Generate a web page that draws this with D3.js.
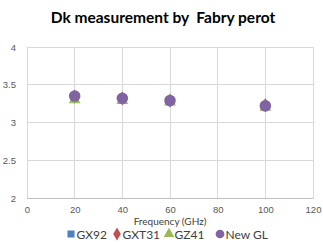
<!DOCTYPE html>
<html>
<head>
<meta charset="utf-8">
<script src="https://cdn.jsdelivr.net/npm/d3@7"></script>
<style>
  body { margin: 0; background: #fff; }
  svg { display: block; font-family: Lato, "Open Sans", sans-serif; }
</style>
</head>
<body>
<svg id="chart" width="323" height="243"></svg>
<script>
const frequencies = [20, 40, 60, 100];
const seriesNames = ["GX92", "GXT31", "GZ41", "New GL"];
const gx92 = [3.33, 3.31, 3.29, 3.22];
const gxt31 = [3.34, 3.32, 3.29, 3.23];
const gz41 = [3.30, 3.29, 3.27, 3.20];
const newGL = [3.35, 3.32, 3.29, 3.22];
const xTicks = [0, 20, 40, 60, 80, 100, 120];
const yTicks = [2, 2.5, 3, 3.5, 4];

const colors = ["#4F81BD", "#C0504D", "#9BBB59", "#8064A2"];
const shapes = [d3.symbolSquare, d3.symbolDiamond, d3.symbolTriangle, d3.symbolCircle];
const markerSizes = [70, 60, 60, 105];
const allSeries = [gx92, gxt31, gz41, newGL];

const svg = d3.select("#chart");

const x = d3.scaleLinear().domain([0, 120]).range([27, 313]);
const y = d3.scaleLinear().domain([2, 4]).range([198, 47]);

// title
svg.append("text")
    .attr("x", 163)
    .attr("y", 23)
    .attr("text-anchor", "middle")
    .attr("font-size", 15.5)
    .attr("font-weight", "bold")
    .attr("fill", "#000")
    .style("white-space", "pre")
    .text("Dk measurement by  Fabry perot");

// grid
svg.append("g")
    .selectAll("line")
    .data(yTicks)
    .join("line")
        .attr("x1", x(0)).attr("x2", x(120))
        .attr("y1", d => y(d)).attr("y2", d => y(d))
        .attr("stroke", "#d9d9d9")
        .attr("stroke-width", 1)
        .attr("shape-rendering", "crispEdges");

svg.append("g")
    .selectAll("line")
    .data(xTicks)
    .join("line")
        .attr("x1", d => x(d)).attr("x2", d => x(d))
        .attr("y1", y(2)).attr("y2", y(4))
        .attr("stroke", "#d9d9d9")
        .attr("stroke-width", 1)
        .attr("shape-rendering", "crispEdges");

// axes
const xAxis = svg.append("g")
    .attr("transform", "translate(0," + y(2) + ")")
    .call(d3.axisBottom(x).tickValues(xTicks).tickSize(0).tickPadding(8));
xAxis.select(".domain").attr("stroke", "#bfbfbf");
xAxis.selectAll("text").attr("font-size", 9.5).attr("fill", "#595959").attr("font-family", null);

const yAxis = svg.append("g")
    .attr("transform", "translate(" + x(0) + ",0)")
    .call(d3.axisLeft(y).tickValues(yTicks).tickFormat(d3.format("")).tickSize(0).tickPadding(11));
yAxis.select(".domain").remove();
yAxis.selectAll("text").attr("font-size", 9.5).attr("fill", "#595959").attr("font-family", null);

svg.append("text")
    .attr("x", 170)
    .attr("y", 225)
    .attr("text-anchor", "middle")
    .attr("font-size", 10)
    .attr("fill", "#404040")
    .text("Frequency (GHz)");

// points
allSeries.forEach(function (vals, si) {
    svg.append("g")
        .selectAll("path")
        .data(vals)
        .join("path")
            .attr("transform", (d, i) => "translate(" + x(frequencies[i]) + "," + y(d) + ")")
            .attr("d", d3.symbol().type(shapes[si]).size(markerSizes[si]))
            .attr("fill", colors[si]);
});

// legend
const legendX = [67, 113, 165, 216];
const legend = svg.append("g");
seriesNames.forEach(function (name, i) {
    const g = legend.append("g").attr("transform", "translate(" + legendX[i] + ",234)");
    g.append("path")
        .attr("transform", "translate(4,0)")
        .attr("d", d3.symbol().type(shapes[i]).size(i === 3 ? 60 : 50))
        .attr("fill", colors[i]);
    g.append("text")
        .attr("x", 9.5)
        .attr("y", 4.5)
        .attr("font-size", 12)
        .attr("fill", "#404040")
        .text(name);
});
</script>
</body>
</html>
